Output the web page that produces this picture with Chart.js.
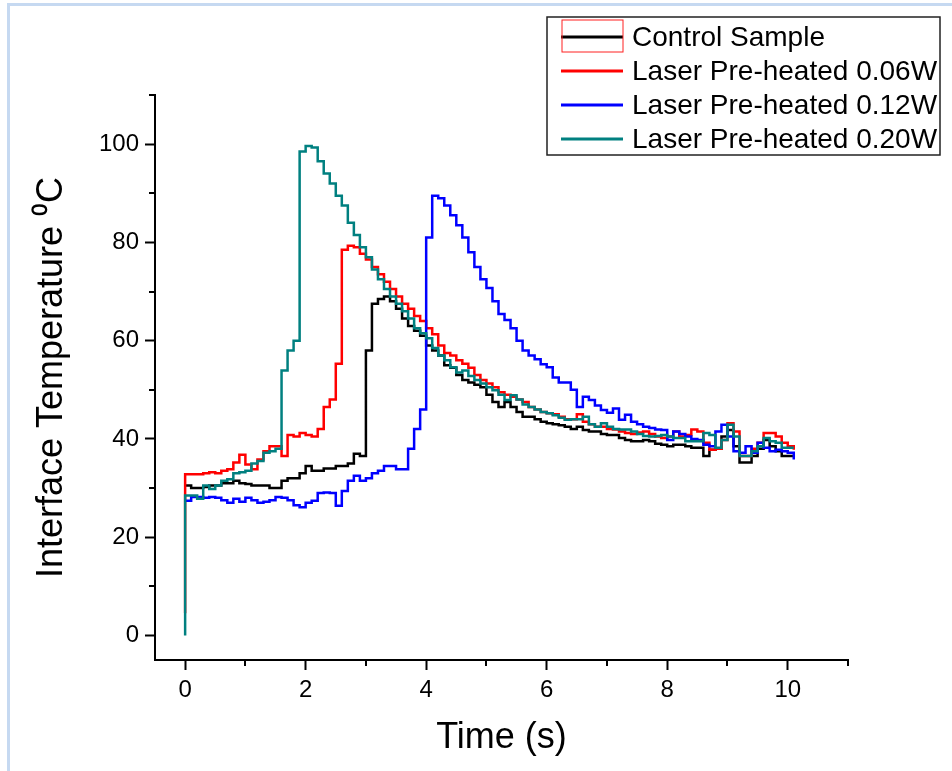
<!DOCTYPE html>
<html lang="en">
<head>
    <meta charset="UTF-8">
    <title>Interface Temperature</title>
    <script src="https://cdn.jsdelivr.net/npm/chart.js@4.4.1/dist/chart.umd.min.js"></script>
    <style>
        html, body { margin: 0; padding: 0; background: #fff; }
        #wrap { width: 952px; height: 771px; position: relative; }
    </style>
</head>
<body>
<div id="wrap"><canvas id="myChart" width="952" height="771"></canvas></div>
<script>
    // sample times (s): the reading before switch-on at t=0, then one every 0.1 s
    var times = [0];
    for (var i = 0; i <= 101; i++) times.push(i / 10);

    var labels = ['Control Sample', 'Laser Pre-heated 0.06W', 'Laser Pre-heated 0.12W', 'Laser Pre-heated 0.20W'];
    var colors = ['#000000', '#ff0000', '#0000ff', '#008080'];

    var control = [30.5,
        30.5, 30, 30, 30.2, 30.5, 30.5, 31, 31, 31.5, 31,
        30.8, 30.5, 30.5, 30.5, 30, 30, 31.5, 32, 32, 33,
        34.5, 33.5, 33.5, 34, 34, 34.5, 34.5, 35, 37, 36.5,
        58, 67.5, 68.5, 69, 68, 66.5, 64.5, 63, 62, 61,
        59, 58, 57, 55, 54.5, 53, 52, 51.5, 51, 50.5,
        49, 47.5, 46.5, 47.5, 46.5, 45.5, 44.5, 44.5, 44, 43.5,
        43.2, 43, 42.8, 42.5, 42, 42.5, 41.8, 41.5, 41.5, 41,
        40.8, 40.8, 40.2, 39.8, 39.5, 39.5, 39.8, 39.5, 39, 38.8,
        38.5, 38.8, 38.8, 38.5, 38.2, 38.2, 36.5, 37.8, 38, 40.5,
        41.8, 38.5, 35.2, 35.2, 36.5, 38, 39.8, 38.5, 37.5, 36.5,
        36.5, 36.8];

    var w006 = [4.5,
        32.8, 32.8, 32.8, 33, 33.2, 33, 33.5, 33.8, 35.2, 36.8,
        34.8, 33.8, 35.8, 37.5, 38.5, 38.5, 36.5, 40.8, 40.5, 41.2,
        40.8, 40.5, 42, 46.5, 48, 55.3, 78.5, 79.3, 79, 77.7,
        76.5, 75, 73.5, 72, 70.5, 69, 67.5, 66.5, 65, 64,
        62.5, 61.3, 59, 57.5, 57, 56, 55.3, 54.5, 53, 52,
        51.3, 50.5, 49.5, 49, 48.6, 48, 47.5, 46.5, 46, 45.5,
        45.2, 45, 44.5, 44, 44, 45, 43.5, 43, 42.5, 42.5,
        42, 41.9, 41.5, 41.2, 41, 41.3, 41.5, 41, 40.5, 40.2,
        40.5, 41.5, 40.5, 40.8, 41.9, 41.5, 39.2, 37.8, 38, 39.8,
        43.2, 41.5, 36.5, 36.5, 38, 39.2, 41.2, 41.2, 40.5, 39.2,
        38.5, 37.8];

    var w012 = [27.4,
        27.4, 28.2, 28.2, 28, 28.2, 28, 27.5, 27, 27.8, 27.2,
        28, 27.5, 27, 27.2, 27.5, 28.2, 28, 27.5, 26.5, 26.1,
        27, 27.4, 29, 29.1, 29, 26.4, 29.4, 31.5, 32.5, 31.5,
        32, 33, 33.5, 34.5, 34.5, 33.8, 33.8, 38, 42, 46,
        81, 89.5, 89, 87.5, 85.5, 83.5, 81, 78, 75, 72.5,
        70.7, 68, 65.4, 64.2, 62.5, 60, 58, 57, 56.2, 55.2,
        54.6, 52.5, 51.5, 51.5, 50, 46.5, 48.6, 47.9, 46.8, 45.9,
        45.3, 46.2, 43.9, 44.9, 43.5, 43, 42.5, 42.2, 41.9, 41.8,
        39.8, 41.5, 41, 40.5, 40, 39.8, 38.8, 38.5, 41.5, 42.9,
        40.5, 37.5, 37.2, 38.5, 37.2, 39.2, 38.2, 37.5, 37.8, 37.5,
        37.2, 35.8];

    var w020 = [0,
        28.5, 28.5, 27.8, 30.5, 29.8, 30.5, 31.5, 31.8, 33, 33.2,
        33.5, 35, 35.5, 37.2, 37.5, 38, 53.9, 58, 60, 98.5,
        99.6, 99.3, 96.5, 94, 92, 89.5, 87.5, 84, 81.5, 79,
        77, 74.5, 72.5, 70.5, 69, 67.5, 66, 64.5, 62.5, 61.5,
        60.5, 58.5, 57, 56, 54.6, 53.5, 53.9, 52.8, 52, 51.3,
        50.5, 49.9, 49, 47.9, 48.9, 48, 47, 46.5, 46, 45.5,
        45.2, 44.8, 44.3, 43.9, 44, 44, 44.5, 43, 42.5, 43.2,
        42.5, 42, 41.9, 41.9, 41.5, 41, 40.6, 40.5, 40.6, 40.8,
        40.5, 40.2, 40.2, 39.5, 39.5, 39.5, 41.2, 40.8, 38.2, 39.8,
        42.9, 40.5, 36.5, 36.5, 37.5, 38.5, 40.2, 39.5, 39.2, 38.2,
        38.2, 38.2];

    var xTicks = [0, 2, 4, 6, 8, 10];
    var yTicks = [0, 20, 40, 60, 80, 100];

    var FONT = "'Liberation Sans', Arial, sans-serif";

    function pts(vals) {
        return vals.map(function(v, i) { return {x: times[i], y: v}; });
    }

    function isMajor(axis, v) {
        return (axis === 'x' ? xTicks : yTicks).indexOf(v) >= 0;
    }

    // frame, minor ticks and the legend box
    var extras = {
        id: 'extras',
        beforeDraw: function(chart) {
            var ctx = chart.ctx;
            ctx.save();
            ctx.fillStyle = '#c6d9f1';
            ctx.fillRect(7, 3, 945, 3);
            ctx.fillRect(7, 3, 3, 768);
            ctx.restore();
        },
        afterDraw: function(chart) {
            var ctx = chart.ctx;
            var xs = chart.scales.x, ys = chart.scales.y;
            var a = chart.chartArea;
            ctx.save();
            ctx.strokeStyle = '#000';
            ctx.lineWidth = 2;
            xs.ticks.forEach(function(t) {
                if (isMajor('x', t.value)) return;
                var px = Math.round(xs.getPixelForValue(t.value));
                ctx.beginPath();
                ctx.moveTo(px, a.bottom);
                ctx.lineTo(px, a.bottom + 6);
                ctx.stroke();
            });
            ys.ticks.forEach(function(t) {
                if (isMajor('y', t.value)) return;
                var py = Math.round(ys.getPixelForValue(t.value));
                ctx.beginPath();
                ctx.moveTo(a.left, py);
                ctx.lineTo(a.left - 6, py);
                ctx.stroke();
            });

            // legend
            var bx = 547, by = 17, bw = 393, bh = 138;
            ctx.lineWidth = 1.5;
            ctx.strokeStyle = '#222';
            ctx.strokeRect(bx, by, bw, bh);
            ctx.font = '28px ' + FONT;
            ctx.textBaseline = 'middle';
            ctx.fillStyle = '#000';
            chart.data.datasets.forEach(function(ds, i) {
                var cy = by + 20 + i * 34;
                ctx.strokeStyle = ds.borderColor;
                ctx.lineWidth = 3;
                ctx.beginPath();
                ctx.moveTo(561, cy);
                ctx.lineTo(623, cy);
                ctx.stroke();
                ctx.fillText(ds.label, 632, cy + 1);
            });
            ctx.strokeStyle = '#ff2020';
            ctx.lineWidth = 1;
            ctx.strokeRect(562, by + 3, 61, 32);
            ctx.restore();
        }
    };

    var sets = [control, w006, w012, w020].map(function(vals, i) {
        return {
            label: labels[i],
            data: pts(vals),
            borderColor: colors[i],
            backgroundColor: colors[i],
            borderWidth: 2.5,
            pointRadius: 0,
            stepped: 'before',
            fill: false,
            order: 4 - i
        };
    });

    var ctx = document.getElementById('myChart').getContext('2d');
    var chart = new Chart(ctx, {
        type: 'line',
        data: { datasets: sets },
        plugins: [extras],
        options: {
            responsive: false,
            animation: false,
            layout: { padding: { left: 0, top: 95, right: 104, bottom: 0 } },
            plugins: {
                legend: { display: false },
                tooltip: { enabled: false }
            },
            scales: {
                x: {
                    type: 'linear',
                    min: -0.5,
                    max: 11,
                    afterFit: function(s) { s.height = 111; },
                    afterBuildTicks: function(s) {
                        var t = [];
                        for (var v = 0; v <= 11; v++) t.push({value: v});
                        s.ticks = t;
                    },
                    grid: {
                        drawOnChartArea: false,
                        tickLength: 10,
                        tickWidth: 2,
                        tickColor: function(c) { return isMajor('x', c.tick && c.tick.value) ? '#000' : 'rgba(0,0,0,0)'; }
                    },
                    border: { color: '#000', width: 2 },
                    ticks: {
                        autoSkip: false,
                        maxRotation: 0,
                        padding: 6,
                        color: '#000',
                        font: { family: FONT, size: 24 },
                        callback: function(v) { return isMajor('x', v) ? String(v) : ''; }
                    },
                    title: {
                        display: true,
                        text: 'Time (s)',
                        color: '#000',
                        font: { family: FONT, size: 36 },
                        padding: { top: 0, bottom: 11 }
                    }
                },
                y: {
                    type: 'linear',
                    min: -5,
                    max: 110,
                    afterFit: function(s) { s.width = 155; },
                    afterBuildTicks: function(s) {
                        var t = [];
                        for (var v = 0; v <= 110; v += 10) t.push({value: v});
                        s.ticks = t;
                    },
                    grid: {
                        drawOnChartArea: false,
                        tickLength: 10,
                        tickWidth: 2,
                        tickColor: function(c) { return isMajor('y', c.tick && c.tick.value) ? '#000' : 'rgba(0,0,0,0)'; }
                    },
                    border: { color: '#000', width: 2 },
                    ticks: {
                        autoSkip: false,
                        padding: 6,
                        color: '#000',
                        font: { family: FONT, size: 24 },
                        callback: function(v) { return isMajor('y', v) ? String(v) : ''; }
                    },
                    title: {
                        display: true,
                        text: 'Interface Temperature \u2070C',
                        color: '#000',
                        font: { family: FONT, size: 36 },
                        padding: { top: 30, bottom: 0 }
                    }
                }
            }
        }
    });
</script>
</body>
</html>
